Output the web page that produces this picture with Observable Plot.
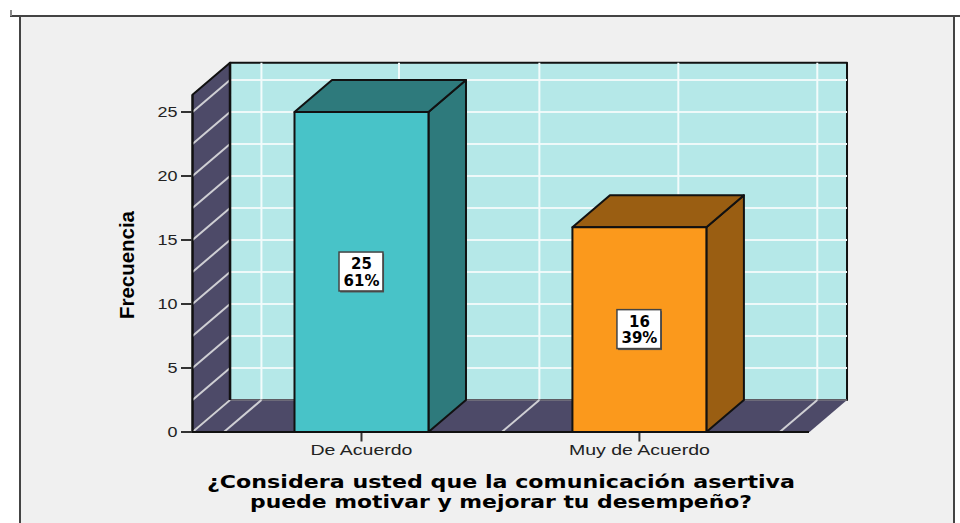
<!DOCTYPE html>
<html><head><meta charset="utf-8">
<script src="https://cdn.jsdelivr.net/npm/d3@7"></script>
<script src="https://cdn.jsdelivr.net/npm/@observablehq/plot@0.6"></script>
<style>
html,body{margin:0;padding:0;background:#fff;width:960px;height:523px;overflow:hidden}
#panel{position:absolute;left:19px;top:15px;width:932px;height:520px;background:#f0f0f0;border:2px solid #444;box-sizing:content-box}
#stub{position:absolute;left:10px;top:10px;width:2px;height:6px;background:#888}
#topline{position:absolute;left:10px;top:15px;width:950px;height:2px;background:#444}
#chart{position:absolute;left:0;top:0}
svg{background:transparent!important;display:block}
</style></head><body>
<div id="panel"></div><div id="topline"></div><div id="stub"></div><div id="chart"></div>
<script>
const categories = ["De Acuerdo", "Muy de Acuerdo"];
const positions = [0, 1];
const counts = [25, 16];
const percents = ["61%", "39%"];
const frontColors = ["#48c3c8", "#fb991c"];
const sideColors = ["#2e7a7c", "#9a5e12"];
const yTicks = [0, 5, 10, 15, 20, 25];
const gridValues = [2.5, 5, 7.5, 10, 12.5, 15, 17.5, 20, 22.5, 25];
const gridPositions = [-0.495, 0, 0.505, 1.005, 1.505];
const titleLines = ["¿Considera usted que la comunicación asertiva", "puede motivar y mejorar tu desempeño?"];

const xMin = -0.608, xMax = 1.612, yMax = 26.34;
const depthX = 0.135, depthY = 2.5, halfBar = 0.241;
const boxX = 0.079, boxY = 1.52;
const wallColor = "#4d4a68", backColor = "#b5e8e8", ink = "#111";

const poly = (pts, fill, strokeWidth = 2, stroke = ink) =>
  Plot.line([...pts, pts[0]].map(([x, y]) => ({x, y})), {x: "x", y: "y", fill, stroke, strokeWidth, curve: "linear-closed"});
const grid = (rows, stroke, sw = 2) =>
  Plot.link(rows, {x1: d => d[0], y1: d => d[1], x2: d => d[2], y2: d => d[3], stroke, strokeWidth: sw});

const xb = xMin + depthX, xe = xMax + depthX, yb = yMax + depthY;
const marks = [
  poly([[xb, depthY], [xe, depthY], [xe, yb], [xb, yb]], backColor),
  grid(gridValues.map(v => [xb, v + depthY, xe, v + depthY]), "#eef9f9"),
  grid(gridPositions.map(p => [p + depthX, depthY, p + depthX, yb]), "#f2fbfb"),
  poly([[xMin, 0], [xb, depthY], [xb, yb], [xMin, yMax]], wallColor),
  poly([[xMin, 0], [xMax, 0], [xe, depthY], [xb, depthY]], wallColor, 0, "none"),
  grid([[xb, depthY, xe, depthY]], "#77767f", 1.5),
  grid([0, ...gridValues].map(v => [xMin, v, xb, v + depthY]), "#cfcfd4"),
  grid(gridPositions.map(p => [p, 0, p + depthX, depthY]), "#cfcfd4"),
  grid([[xb, depthY, xb, yb]], ink, 2.5),
  grid([[xMin, 0, xMin, yMax]], ink, 2)
];
positions.forEach((p, i) => {
  const l = p - halfBar, r = p + halfBar, v = counts[i];
  marks.push(
    poly([[r, 0], [r + depthX, depthY], [r + depthX, v + depthY], [r, v]], sideColors[i]),
    poly([[l, v], [r, v], [r + depthX, v + depthY], [l + depthX, v + depthY]], sideColors[i]),
    poly([[l, 0], [r, 0], [r, v], [l, v]], frontColors[i])
  );
});
const labels = positions.map((p, i) => ({x: p, y: counts[i] / 2, text: counts[i] + "\n" + percents[i]}));
marks.push(
  Plot.rect(labels, {x1: d => d.x - boxX + 0.004, x2: d => d.x + boxX + 0.004, y1: d => d.y - boxY - 0.12, y2: d => d.y + boxY - 0.12, fill: "#555"}),
  Plot.rect(labels, {x1: d => d.x - boxX, x2: d => d.x + boxX, y1: d => d.y - boxY, y2: d => d.y + boxY, fill: "#fff", stroke: "#444", strokeWidth: 1.5}),
  Plot.text(labels, {x: "x", y: "y", text: "text", fontFamily: "DejaVu Sans", fontWeight: "bold", fontSize: 15, lineHeight: 1.1, fill: "#000"}),
  Plot.axisY({ticks: yTicks, tickSize: 11, tickPadding: 4, strokeWidth: 2, stroke: "#333", fontSize: 14.5, fontFamily: "Liberation Sans", fill: "#222", label: null, className: "ytick"}),
  Plot.axisX({ticks: positions, tickFormat: d => categories[positions.indexOf(d)], tickSize: 10, tickPadding: 3, strokeWidth: 2, stroke: "#333", fontSize: 14.5, fontFamily: "Liberation Sans", fill: "#222", label: null, className: "xtick"}),
  Plot.ruleY([0], {stroke: ink, strokeWidth: 2}),
  Plot.text(["Frecuencia"], {frameAnchor: "left", textAnchor: "middle", rotate: -90, dx: -65, dy: -7, fontFamily: "Liberation Sans", fontWeight: "bold", fontSize: 21, fill: "#000", className: "ylabel"}),
  Plot.text([titleLines[0]], {frameAnchor: "bottom", dy: 56, fontFamily: "DejaVu Sans", fontWeight: "bold", fontSize: 18.5, fill: "#000", className: "t0"}),
  Plot.text([titleLines[1]], {frameAnchor: "bottom", dy: 76, fontFamily: "DejaVu Sans", fontWeight: "bold", fontSize: 18.5, fill: "#000", className: "t1"})
);
const svg = Plot.plot({
  width: 960, height: 523,
  marginLeft: 192, marginRight: 151, marginTop: 111.5, marginBottom: 91.5,
  x: {domain: [xMin, xMax]}, y: {domain: [0, 25]},
  style: {background: "transparent", overflow: "visible"},
  marks
});
document.getElementById("chart").appendChild(svg);
const fit = (sel, w, mode = "spacingAndGlyphs") => d3.select(svg).selectAll(sel).attr("textLength", w).attr("lengthAdjust", mode);
fit(".ytick text", function(){ return this.textContent.length > 1 ? 20 : 10; });
fit(".xtick text", function(){ return this.textContent.length > 10 ? 141 : 102; });
fit(".ylabel text", 108);
fit(".t0 text", 588);
fit(".t1 text", 502);
</script>
</body></html>
